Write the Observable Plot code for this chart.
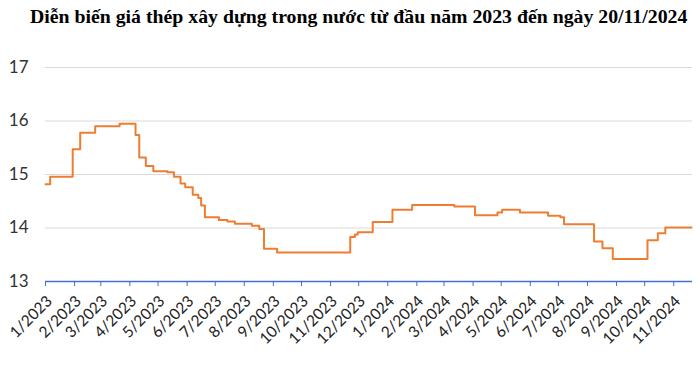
<!DOCTYPE html>
<html>
<head>
<meta charset="utf-8">
<script src="https://cdn.jsdelivr.net/npm/d3@7"></script>
<script src="https://cdn.jsdelivr.net/npm/@observablehq/plot@0.6"></script>
<style>
  html, body { margin: 0; padding: 0; background: #fff; width: 700px; height: 370px; overflow: hidden; }
  #title { position: relative; height: 34px; font-family: "Liberation Serif", "Times New Roman", serif; font-weight: bold; font-size: 19.8px; color: #000; white-space: nowrap; }
  #title span { position: absolute; left: 30px; top: 5px; }
  #chart svg { display: block; }
</style>
</head>
<body>
<div id="title"><span>Diễn biến giá thép xây dựng trong nước từ đầu năm 2023 đến ngày 20/11/2024</span></div>
<div id="chart"></div>
<script>
const title = "Diễn biến giá thép xây dựng trong nước từ đầu năm 2023 đến ngày 20/11/2024";
const dates = [
  "2023-01-01","2023-01-06","2023-01-30","2023-02-07","2023-02-23","2023-03-21",
  "2023-04-07","2023-04-11","2023-04-18","2023-04-26","2023-05-11","2023-05-18",
  "2023-05-25","2023-05-30","2023-06-07","2023-06-13","2023-06-16","2023-06-20",
  "2023-07-05","2023-07-14","2023-07-22","2023-08-09","2023-08-17","2023-08-22",
  "2023-09-05","2023-11-22","2023-11-27","2023-11-30","2023-12-16","2024-01-06",
  "2024-01-27","2024-03-12","2024-04-03","2024-04-27","2024-05-02","2024-05-21",
  "2024-06-20","2024-07-03","2024-07-07","2024-08-08","2024-08-17","2024-08-28",
  "2024-10-04","2024-10-15","2024-10-23","2024-11-20"
];
const prices = [
  14.82,14.96,15.47,15.78,15.90,15.95,
  15.74,15.32,15.16,15.06,15.04,14.96,
  14.83,14.76,14.62,14.56,14.42,14.20,
  14.15,14.12,14.08,14.04,13.98,13.61,
  13.54,13.83,13.88,13.92,14.11,14.34,
  14.43,14.40,14.24,14.29,14.34,14.29,
  14.23,14.20,14.07,13.75,13.62,13.42,
  13.77,13.90,14.01,14.01
];
const yTicks = [13, 14, 15, 16, 17];
const gridLines = [14, 15, 16, 17];
const xStart = "2023-01-01";
const xEnd = "2024-11-21";
const lastTick = "2024-11-01";

const data = dates.map((d, i) => ({date: new Date(d), price: prices[i]}));
const monthTicks = d3.utcMonth.range(new Date(xStart), d3.utcDay.offset(new Date(lastTick), 1));

const plot = Plot.plot({
  width: 700,
  height: 336,
  marginLeft: 45,
  marginRight: 8,
  marginTop: 33,
  marginBottom: 89,
  style: {fontFamily: "Lato, 'Liberation Sans', sans-serif", background: "#fff"},
  x: {type: "utc", domain: [new Date(xStart), new Date(xEnd)]},
  y: {domain: [13, 17]},
  marks: [
    Plot.ruleY(gridLines, {stroke: "#d9d9d9", strokeWidth: 1}),
    Plot.ruleY([13], {stroke: "#4472C4", strokeWidth: 1.5}),
    Plot.axisY({ticks: yTicks, tickSize: 0, tickPadding: 17, fontSize: 17, fill: "#333", label: null,
      tickFormat: d => String(d)}),
    Plot.axisX({ticks: monthTicks, tickSize: 5, stroke: "#4472C4", strokeWidth: 1, label: null, tickFormat: () => ""}),
    Plot.axisX({ticks: monthTicks, tickSize: 0, tickRotate: -45, tickPadding: 17, dx: 4,
      fontSize: 15.5, fill: "#222", label: null,
      tickFormat: d => `${d.getUTCMonth() + 1}/${d.getUTCFullYear()}`}),
    Plot.line(data, {x: "date", y: "price", curve: "step-after", stroke: "#ED7D31", strokeWidth: 2})
  ]
});
document.getElementById("chart").appendChild(plot);
</script>
</body>
</html>
